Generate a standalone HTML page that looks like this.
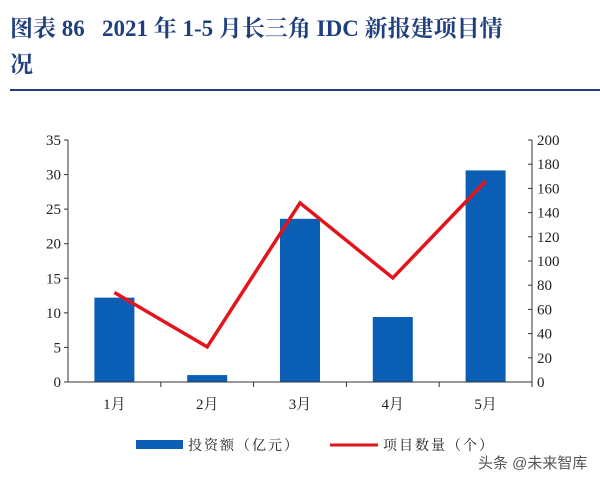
<!DOCTYPE html>
<html><head><meta charset="utf-8"><style>
body{margin:0;width:600px;height:484px;background:#fff;overflow:hidden;font-family:"Liberation Serif","Noto Serif CJK SC",serif;}
.t{position:absolute;left:10px;color:#1f3f7f;font-weight:bold;font-size:23px;font-family:"Liberation Serif","Noto Serif CJK SC",serif;white-space:nowrap;}
</style></head><body>
<div class="t" style="top:10px;">图表 86 &nbsp; 2021 年 1-5 月长三角 IDC 新报建项目情</div>
<div class="t" style="top:46px;">况</div>
<div style="position:absolute;left:10px;top:89px;width:590px;height:2px;background:#1f3f7f;"></div>
<svg id="c" width="600" height="484" style="position:absolute;left:0;top:0"></svg>
<script>
const categories=["1月","2月","3月","4月","5月"];
const investment=[12.2,1.0,23.6,9.4,30.6];
const projects=[74,29,148,86,166];
const leftTicks=[0,5,10,15,20,25,30,35];
const rightTicks=[0,20,40,60,80,100,120,140,160,180,200];
const NS="http://www.w3.org/2000/svg";
const svg=document.getElementById('c');
const X0=68,X1=532,Y0=382,Y1=140;
const bw=(X1-X0)/categories.length;
const yL=v=>Y0-(v/35)*(Y0-Y1);
const yR=v=>Y0-(v/200)*(Y0-Y1);
const xc=i=>X0+bw*(i+0.5);
function mk(t,a){const e=document.createElementNS(NS,t);for(const k in a)e.setAttribute(k,a[k]);svg.appendChild(e);return e;}
investment.forEach((v,i)=>{
 const r=mk('rect',{x:xc(i)-20,y:yL(v),width:40,height:Y0-yL(v),fill:'#0a5fb4'});
 
 
});
const ax=mk('path',{d:`M${X0} ${Y1}V${Y0}H${X1}V${Y1}`,stroke:'#333',fill:'none','stroke-width':1});


leftTicks.forEach(v=>{
 mk('line',{x1:X0-4,x2:X0,y1:yL(v),y2:yL(v),stroke:'#333'});
 const t=mk('text',{x:X0-7,y:yL(v)+5,'text-anchor':'end','font-size':15,fill:'#222'});t.textContent=v;
 
 
});
rightTicks.forEach(v=>{
 mk('line',{x1:X1-4,x2:X1,y1:yR(v),y2:yR(v),stroke:'#333'});
 const t=mk('text',{x:X1+5,y:yR(v)+5,'font-size':15,fill:'#222'});t.textContent=v;
 
 
});
categories.forEach((c,i)=>{
 mk('line',{x1:X0+bw*(i+1),x2:X0+bw*(i+1),y1:Y0,y2:Y0+5,stroke:'#333'});
 const t=mk('text',{x:xc(i),y:Y0+27,'text-anchor':'middle','font-size':15,fill:'#222'});t.textContent=c;
 
 
});
const ln=mk('polyline',{points:projects.map((v,i)=>xc(i)+','+yR(v)).join(' '),fill:'none',stroke:'#e3141c','stroke-width':3.5,'stroke-linejoin':'miter'});


const lb=mk('rect',{x:136,y:440,width:47,height:9,fill:'#0a5fb4'});


let t=mk('text',{x:188,y:450,'font-size':14,fill:'#222','letter-spacing':2});t.textContent='投资额（亿元）';


const ll=mk('line',{x1:330,x2:378,y1:445,y2:445,stroke:'#e3141c','stroke-width':3});


t=mk('text',{x:383,y:450,'font-size':14,fill:'#222','letter-spacing':2});t.textContent='项目数量（个）';


t=mk('text',{x:478,y:468,'font-size':15,fill:'#555','font-family':'"Liberation Sans","Noto Sans CJK SC",sans-serif'});t.textContent='头条 @未来智库';


</script>
</body></html>
